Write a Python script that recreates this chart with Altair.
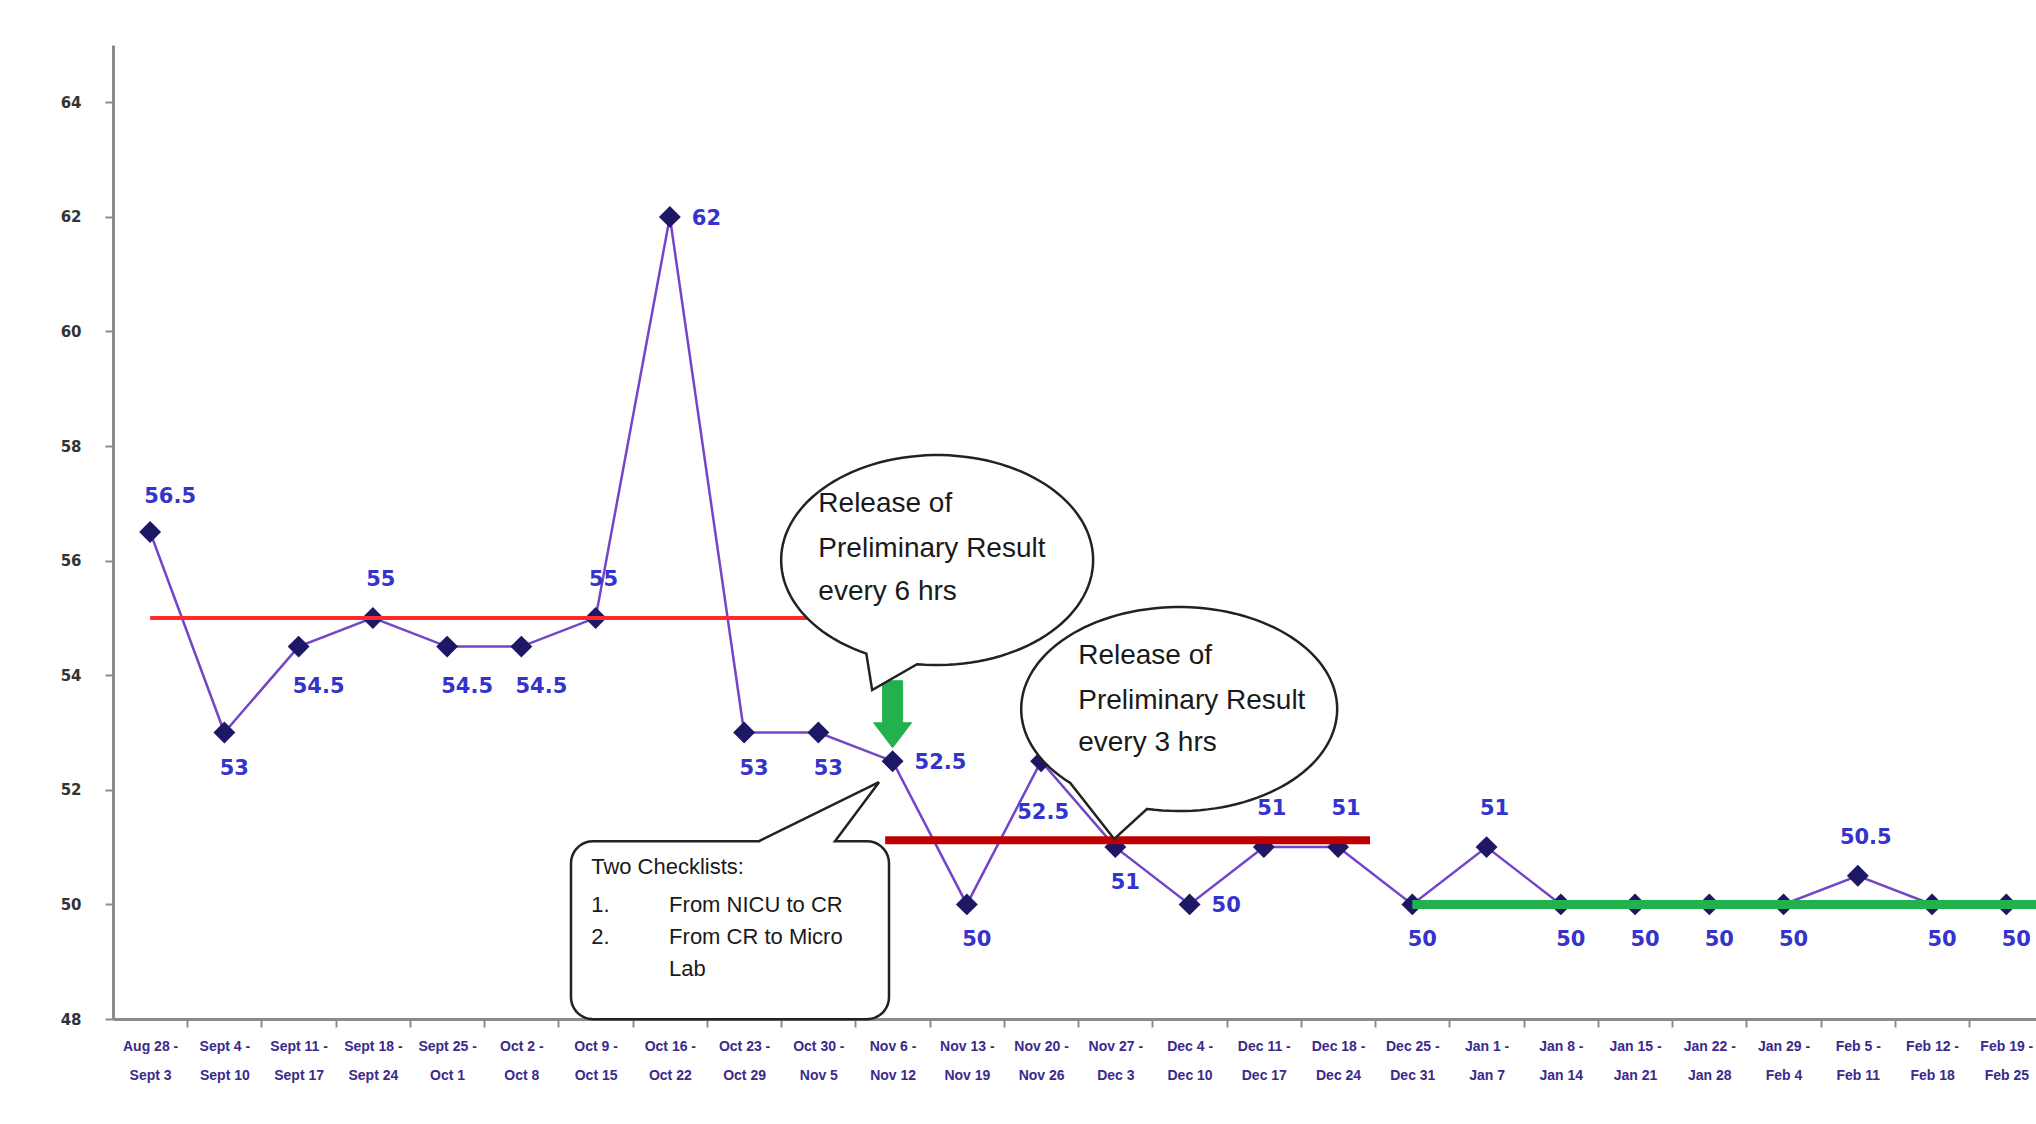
import altair as alt
import numpy as np
import pandas as pd

# ---------------- data ----------------
week_start = ["Aug 28 -", "Sept 4 -", "Sept 11 -", "Sept 18 -", "Sept 25 -", "Oct 2 -",
              "Oct 9 -", "Oct 16 -", "Oct 23 -", "Oct 30 -", "Nov 6 -", "Nov 13 -",
              "Nov 20 -", "Nov 27 -", "Dec 4 -", "Dec 11 -", "Dec 18 -", "Dec 25 -",
              "Jan 1 -", "Jan 8 -", "Jan 15 -", "Jan 22 -", "Jan 29 -", "Feb 5 -",
              "Feb 12 -", "Feb 19 -"]
week_end = ["Sept 3", "Sept 10", "Sept 17", "Sept 24", "Oct 1", "Oct 8", "Oct 15",
            "Oct 22", "Oct 29", "Nov 5", "Nov 12", "Nov 19", "Nov 26", "Dec 3",
            "Dec 10", "Dec 17", "Dec 24", "Dec 31", "Jan 7", "Jan 14", "Jan 21",
            "Jan 28", "Feb 4", "Feb 11", "Feb 18", "Feb 25"]
values = [56.5, 53, 54.5, 55, 54.5, 54.5, 55, 62, 53, 53, 52.5, 50, 52.5, 51, 50,
          51, 51, 50, 51, 50, 50, 50, 50, 50.5, 50, 50]
label_side = ["above-right", "below", "below-right", "above", "below-right",
              "below-right", "above", "right", "below", "below", "right", "below",
              "below-low", "below", "right", "above", "above", "below", "above", "below",
              "below", "below", "below", "above", "below", "below"]

# median / phase lines (start index, end index, level)
seg_start = [0, 9.9, 17.0]
seg_end = [8.85, 16.43, 25.4]
seg_value = [55, 51.12, 50]
seg_color = ["#ff2a2a", "#c00000", "#22b14c"]
seg_width = [4, 8, 9]

# annotation texts (x in category index units, y in value units)
bubble_lines = ["Release of", "Preliminary Result", "every 6 hrs",
                "Release of", "Preliminary Result", "every 3 hrs"]
bubble_x = [9.0, 9.0, 9.0, 12.5, 12.5, 12.5]
bubble_y = [56.99, 56.20, 55.45, 54.34, 53.55, 52.82]

box_lines = ["Two Checklists:", "1.", "From NICU to CR", "2.", "From CR to Micro", "Lab"]
box_x = [5.94, 5.94, 6.99, 5.94, 6.99, 6.99]
box_y = [50.65, 49.99, 49.99, 49.43, 49.43, 48.87]

# ---------------- frames ----------------
df = pd.DataFrame({
    "idx": list(range(len(values))),
    "value": values,
    "label": [f"{v:g}" for v in values],
    "side": label_side,
})
seg_df = pd.DataFrame({"x": seg_start, "x2": seg_end, "y": seg_value,
                       "color": seg_color, "w": seg_width})
bub_df = pd.DataFrame({"text": bubble_lines, "x": bubble_x, "y": bubble_y})
box_df = pd.DataFrame({"text": box_lines, "x": box_x, "y": box_y})

W, H = 1923, 974
XDOM = [-0.5, 25.4]
YDOM = [48, 65]
step = W / (XDOM[1] - XDOM[0])

x_enc = alt.X("idx:Q", scale=alt.Scale(domain=XDOM, nice=False, zero=False),
              axis=alt.Axis(
                  values=list(range(len(values))),
                  labelExpr="[" + ",".join(f"['{a}','{b}']" for a, b in zip(week_start, week_end)) + "][datum.value]",
                  tickOffset=step / 2, labelOffset=-step / 2,
                  title=None, grid=False, domainColor="#8c8c8c", domainWidth=3,
                  tickColor="#8c8c8c", tickWidth=2, tickSize=8,
                  labelFont="Liberation Sans", labelFontWeight="bold", labelFontSize=14,
                  labelColor="#3b2a8c", labelPadding=12, labelLineHeight=29,
                  labelOverlap=False, labelFlush=False, labelBaseline="top"))
y_enc = alt.Y("value:Q", scale=alt.Scale(domain=YDOM, nice=False, zero=False),
              axis=alt.Axis(values=list(range(48, 65, 2)), format="d", title=None,
                            grid=False, domainColor="#8c8c8c", domainWidth=3,
                            tickColor="#8c8c8c", tickWidth=2, tickSize=8,
                            labelFont="DejaVu Sans", labelFontWeight="bold",
                            labelFontSize=15, labelColor="#333333", labelPadding=24))

base = alt.Chart(df)

line = base.mark_line(color="#7545c9", strokeWidth=2.5).encode(x=x_enc, y=y_enc)
points = base.mark_point(shape="diamond", filled=True, size=480, color="#1d1766",
                         opacity=1).encode(x="idx:Q", y="value:Q")

segs = alt.Chart(seg_df).mark_rule().encode(
    x="x:Q", x2="x2", y="y:Q",
    color=alt.Color("color:N", scale=None),
    strokeWidth=alt.StrokeWidth("w:Q", scale=None))

side_style = {
    "above": (8, -38, "center"),
    "below": (10, 36, "center"),
    "below-low": (2, 52, "center"),
    "right": (22, 2, "left"),
    "below-right": (20, 40, "center"),
    "above-right": (20, -35, "center"),
}
label_layers = []
for side, (dx, dy, al) in side_style.items():
    label_layers.append(
        base.transform_filter(alt.datum.side == side).mark_text(
            dx=dx, dy=dy, align=al, baseline="middle", font="DejaVu Sans",
            fontWeight="bold", fontSize=21, color="#3434cc").encode(
            x="idx:Q", y="value:Q", text="label:N"))


# ---------------- callout shapes ----------------
S = 160.0  # pixel half-extent used to normalise the custom symbol paths
SIZE = (2 * S) ** 2


def to_path(pts):
    return "M " + " L ".join(f"{px / S:.4f} {py / S:.4f}" for px, py in pts) + " Z"


def speech_bubble(rx, ry, th_right, th_left, apex, n=120):
    th = np.radians(np.linspace(th_right, th_left - 360, n))
    pts = [(rx * np.cos(t), ry * np.sin(t)) for t in th]
    pts.append(apex)
    return to_path(pts)


def rounded_box(hw, hh, r, tail_a, tail_b, apex, n=10):
    pts = [(tail_b, -hh)]
    corners = [(hw - r, -hh + r, -90, 0), (hw - r, hh - r, 0, 90),
               (-hw + r, hh - r, 90, 180), (-hw + r, -hh + r, 180, 270)]
    for cx, cy, a0, a1 in corners:
        for t in np.radians(np.linspace(a0, a1, n)):
            pts.append((cx + r * np.cos(t), cy + r * np.sin(t)))
    pts.append((tail_a, -hh))
    pts.append(apex)
    return to_path(pts)


bubble6 = speech_bubble(156, 105, 97.4, 117.0, (-65, 130))
bubble3 = speech_bubble(158, 102, 101.7, 133.6, (-65, 130))
checkbox = rounded_box(159, 89, 22, 29, 105, (149, -148))
arrow = to_path([(-10, -38), (10, -38), (10, 4), (19, 4), (0, 29), (-19, 4), (-10, 4)])

shape_df = pd.DataFrame({"x": [10.0], "y": [53.24]})
arrow_layer = alt.Chart(shape_df).mark_point(
    shape=arrow, size=SIZE, filled=True, fill="#22b14c", stroke="#22b14c",
    strokeWidth=1, opacity=1).encode(x="x:Q", y="y:Q")


def callout(cx, cy, path):
    return alt.Chart(pd.DataFrame({"x": [cx], "y": [cy]})).mark_point(
        shape=path, size=SIZE, filled=True, fill="white", stroke="#222222",
        strokeWidth=2.5, opacity=1).encode(x="x:Q", y="y:Q")


c6 = callout(10.60, 56.01, bubble6)
c3 = callout(13.86, 53.41, bubble3)
cbox = callout(7.81, 49.55, checkbox)

bub_text = alt.Chart(bub_df).mark_text(
    align="left", baseline="middle", font="Liberation Sans", fontSize=28,
    color="#1a1a1a").encode(x="x:Q", y="y:Q", text="text:N")
box_text = alt.Chart(box_df).mark_text(
    align="left", baseline="middle", font="Liberation Sans", fontSize=22,
    color="#1a1a1a").encode(x="x:Q", y="y:Q", text="text:N")

chart = alt.layer(
    line, points, segs, *label_layers, arrow_layer, c6, c3, cbox, bub_text, box_text
).properties(
    width=W, height=H,
    autosize=alt.AutoSizeParams(type="none"),
    padding={"left": 113, "top": 45, "right": 0, "bottom": 105},
    background="white",
).configure_view(stroke=None)

chart.save("out.html", embed_options={"renderer": "svg", "actions": False})
